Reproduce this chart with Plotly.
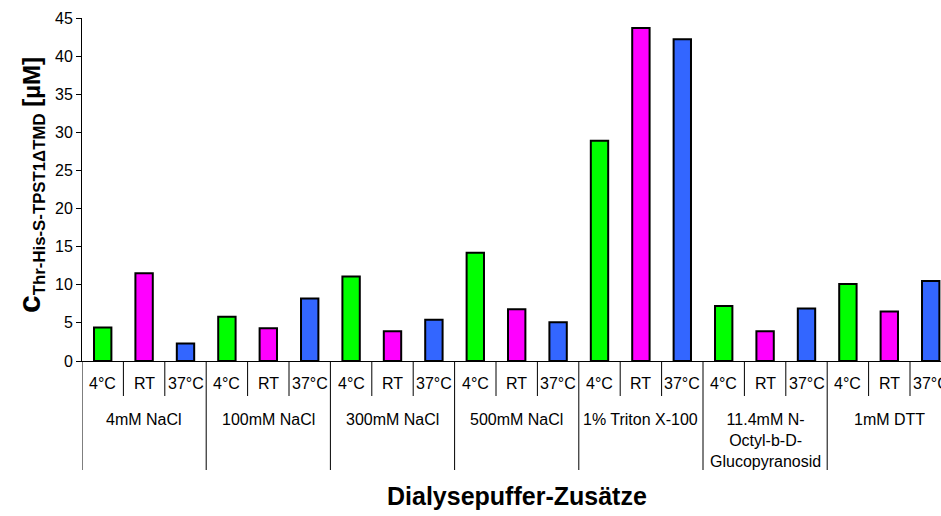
import plotly.graph_objects as go

groups = ["4mM NaCl", "100mM NaCl", "300mM NaCl", "500mM NaCl", "1% Triton X-100",
          "11.4mM N-<br>Octyl-b-D-<br>Glucopyranosid", "1mM DTT"]
temps = ["4°C", "RT", "37°C"]
v_4C = [4.4, 5.8, 11.1, 14.2, 28.9, 7.2, 10.1]
v_RT = [11.5, 4.3, 3.9, 6.8, 43.7, 3.9, 6.5]
v_37C = [2.3, 8.2, 5.4, 5.1, 42.2, 6.9, 10.5]
colors = ["#00FF00", "#FF00FF", "#3366FF"]

FONT = "Arial, Liberation Sans, sans-serif"
W, H = 941, 516
PL, PT, PB = 82, 18, 361  # plot area edges in page pixels
ML, MT = PL, PT
MB = H - PB
plot_h = PB - PT
plot_w = W - PL

def py(px):
    return (PB - px) / plot_h

fig = go.Figure()
for ti, vals in enumerate([v_4C, v_RT, v_37C]):
    xs = [gi * 3 + ti for gi in range(len(groups))]
    fig.add_trace(go.Bar(x=xs, y=vals, width=0.42,
                         marker=dict(color=colors[ti], line=dict(color="black", width=2)),
                         showlegend=False, name=temps[ti]))

n = len(groups) * 3
shapes = []
for k in range(n + 1):
    xb = k - 0.5
    y1 = py(470) if k % 3 == 0 else py(396)
    shapes.append(dict(type="line", xref="x", yref="paper", x0=xb, x1=xb, y0=0, y1=y1,
                       line=dict(color="black", width=1)))

annotations = []
for gi, g in enumerate(groups):
    for ti, t in enumerate(temps):
        annotations.append(dict(x=gi * 3 + ti, y=py(383), xref="x", yref="paper", text=t,
                                showarrow=False, font=dict(size=16, color="black", family=FONT),
                                xanchor="center", yanchor="middle"))
    annotations.append(dict(x=gi * 3 + 1, y=py(409), xref="x", yref="paper", text=g,
                            showarrow=False, font=dict(size=16, color="black", family=FONT),
                            xanchor="center", yanchor="top"))

annotations.append(dict(x=10, y=py(496), xref="x", yref="paper",
                        text="<b>Dialysepuffer-Zusätze</b>", showarrow=False,
                        font=dict(size=25, color="black", family=FONT),
                        xanchor="center", yanchor="middle"))
annotations.append(dict(x=(30 - PL) / plot_w, y=py(185), xref="paper", yref="paper",
                        text="<b><span style='font-size:32px'>c</span><sub>Thr-His-S-TPST1ΔTMD</sub> [µM]</b>",
                        showarrow=False, textangle=-90,
                        font=dict(size=24, color="black", family=FONT),
                        xanchor="center", yanchor="middle"))

fig.update_layout(
    width=W, height=H,
    margin=dict(l=ML, r=0, t=MT, b=MB, pad=0),
    paper_bgcolor="white", plot_bgcolor="white",
    barmode="overlay",
    shapes=shapes, annotations=annotations,
    font=dict(family=FONT, color="black"),
    xaxis=dict(range=[-0.5, -0.5 + plot_w / 41.4], showticklabels=False, ticks="", showgrid=False,
               zeroline=False, showline=True, linecolor="black", linewidth=1),
    yaxis=dict(range=[0, 45], dtick=5, ticks="outside", ticklen=5, tickcolor="black",
               showgrid=False, zeroline=False, showline=True, linecolor="black", linewidth=1,
               tickfont=dict(size=16, color="black", family=FONT)),
)

fig.write_html("out.html", default_width=f"{W}px", default_height=f"{H}px",
               config={"displayModeBar": False},
               post_script="document.body.style.margin='0px';document.body.style.padding='0px';"
                           "document.documentElement.style.overflow='hidden';")
